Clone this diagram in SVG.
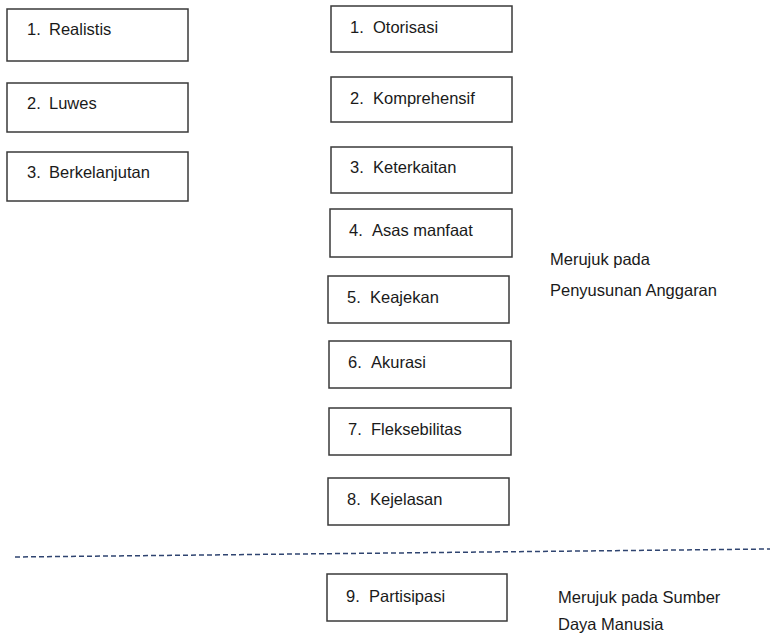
<svg xmlns="http://www.w3.org/2000/svg" width="770" height="635" viewBox="0 0 770 635">
<style>
.box{fill:#fff;stroke:#3a3a3a;stroke-width:1.5}
text{font-family:"Liberation Sans",Arial,sans-serif;font-size:16.5px;fill:#1a1a1a}
.dash{stroke:#2f4470;stroke-width:1.5;stroke-dasharray:5,3;fill:none}
</style>
<rect width="770" height="635" fill="#fff"/>
<g id="left-1"><rect class="box" x="7" y="9" width="181" height="52"/><text x="27" y="35">1.</text><text x="49" y="35">Realistis</text></g>
<g id="left-2"><rect class="box" x="7" y="83" width="181" height="49"/><text x="27" y="109">2.</text><text x="49" y="109">Luwes</text></g>
<g id="left-3"><rect class="box" x="7" y="152" width="181" height="49"/><text x="27" y="178">3.</text><text x="49" y="178">Berkelanjutan</text></g>
<g id="mid-1"><rect class="box" x="331" y="6" width="181" height="46"/><text x="350" y="33">1.</text><text x="373" y="33">Otorisasi</text></g>
<g id="mid-2"><rect class="box" x="331" y="77" width="181" height="45"/><text x="350" y="104">2.</text><text x="373" y="104">Komprehensif</text></g>
<g id="mid-3"><rect class="box" x="331" y="147" width="181" height="46"/><text x="350" y="173">3.</text><text x="373" y="173">Keterkaitan</text></g>
<g id="mid-4"><rect class="box" x="330" y="209" width="182" height="48"/><text x="349" y="236">4.</text><text x="372" y="236">Asas manfaat</text></g>
<g id="mid-5"><rect class="box" x="328" y="276" width="181" height="47"/><text x="347" y="303">5.</text><text x="370" y="303">Keajekan</text></g>
<g id="mid-6"><rect class="box" x="329" y="341" width="182" height="47"/><text x="348" y="368">6.</text><text x="371" y="368">Akurasi</text></g>
<g id="mid-7"><rect class="box" x="329" y="408" width="182" height="47"/><text x="348" y="435">7.</text><text x="371" y="435">Fleksebilitas</text></g>
<g id="mid-8"><rect class="box" x="328" y="478" width="181" height="47"/><text x="347" y="505">8.</text><text x="370" y="505">Kejelasan</text></g>
<g id="mid-9"><rect class="box" x="327" y="574" width="180" height="47"/><text x="346" y="602">9.</text><text x="369" y="602">Partisipasi</text></g>
<g id="note-1"><text x="550" y="265">Merujuk pada</text><text x="550" y="296">Penyusunan Anggaran</text></g>
<g id="note-2"><text x="558" y="603">Merujuk pada Sumber</text><text x="558" y="630">Daya Manusia</text></g>
<g id="connectors"><line class="dash" x1="15" y1="557" x2="770" y2="549"/></g>
</svg>
